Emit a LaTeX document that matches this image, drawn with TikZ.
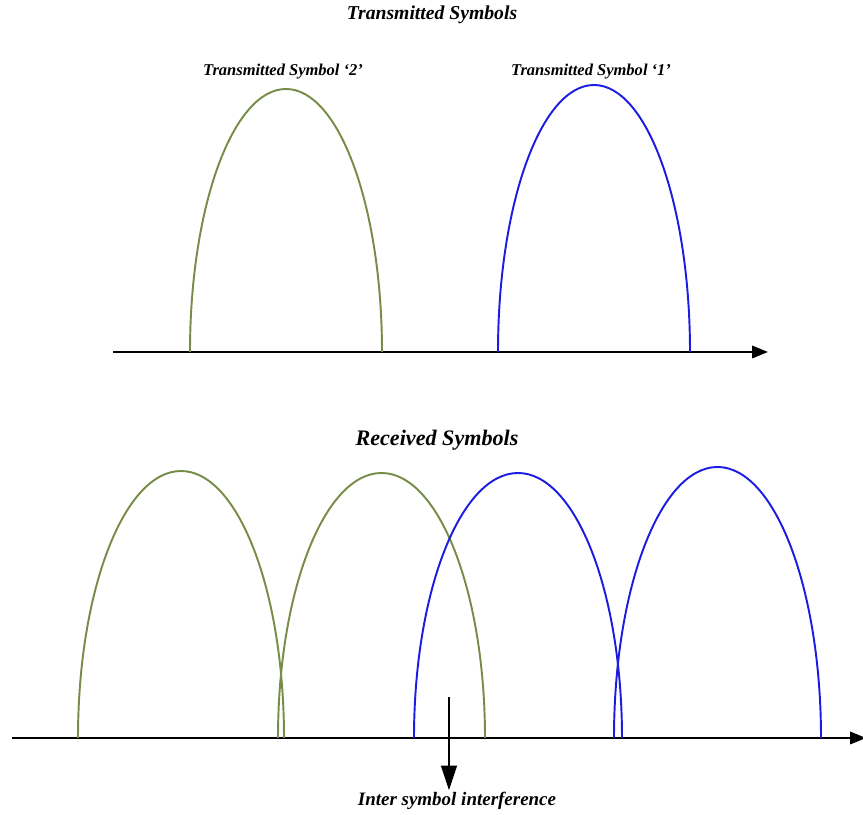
\documentclass[tikz,border=0pt]{standalone}
\usepackage{fontspec}
\setmainfont{Liberation Serif}
\usepackage{tikz}
\usetikzlibrary{arrows.meta,positioning}

\definecolor{symgreen}{RGB}{118,140,72}
\definecolor{symblue}{RGB}{28,28,225}

\begin{document}
\begin{tikzpicture}[x=0.02cm, y=0.02cm,
    title/.style={font=\fontsize{11.2}{13}\selectfont\bfseries\itshape, inner sep=1pt},
    big title/.style={font=\fontsize{12.6}{15}\selectfont\bfseries\itshape, inner sep=1pt},
    label/.style={font=\fontsize{9.4}{11}\selectfont\bfseries\itshape, inner sep=1pt},
    axis/.style={draw=black, line width=1.3pt, -{Triangle[length=9pt, width=7pt]}},
    sym two/.style={draw=symgreen, line width=1.1pt},
    sym one/.style={draw=symblue, line width=1.1pt}
    ]
    \useasboundingbox (0,0) rectangle (863,815);

    % transmitted
    \node[title] (ttitle) at (432,800) {Transmitted Symbols};
    \node[label] (tlab2) at (283,743) {Transmitted Symbol ‘2’};
    \node[label] (tlab1) at (591,743) {Transmitted Symbol ‘1’};

    \coordinate (tstart) at (113,463);
    \coordinate (tend) at (768,463);
    \draw[axis] (tstart) -- (tend);

    \draw[sym two] (190,463) arc[start angle=180, end angle=0, x radius=96, y radius=263];
    \draw[sym one] (498,463) arc[start angle=180, end angle=0, x radius=96, y radius=267];

    % received
    \node[big title] (rtitle) at (437,375) {Received Symbols};

    \coordinate (rstart) at (12,77);
    \coordinate (rend) at (866,77);
    \draw[axis] (rstart) -- (rend);

    \draw[sym two] (78,77) arc[start angle=180, end angle=0, x radius=103, y radius=267];
    \draw[sym two] (278,77) arc[start angle=180, end angle=0, x radius=103.5, y radius=265];
    \draw[sym one] (414,77) arc[start angle=180, end angle=0, x radius=104, y radius=265];
    \draw[sym one] (614,77) arc[start angle=180, end angle=0, x radius=103.5, y radius=271];

    % interference
    \node[title, font=\fontsize{10.8}{13}\selectfont\bfseries\itshape] (isi) at (457,14) {Inter symbol interference};
    \coordinate (isitop) at (449,118);
    \draw[line width=1.3pt, -{Triangle[length=14pt, width=9pt]}] (isitop) -- (isitop |- isi.north);
  \end{tikzpicture}
\end{document}
